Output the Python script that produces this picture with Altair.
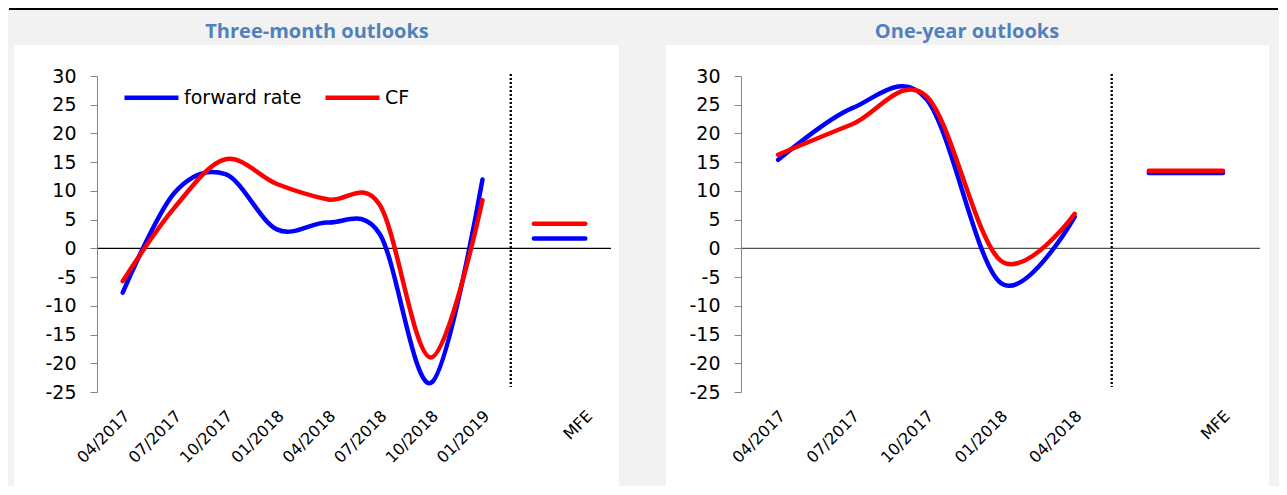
import json
import altair as alt
import pandas as pd

# ---------------- data ----------------
series_names = ["forward rate", "CF"]
series_colors = ["#0000ff", "#ff0000"]

dates_3m = ["04/2017", "07/2017", "10/2017", "01/2018", "04/2018", "07/2018", "10/2018", "01/2019"]
fwd_3m = [-7.7, 9.6, 12.9, 3.3, 4.5, 2.5, -23.4, 12.0]
cf_3m = [-5.7, 7.0, 15.5, 11.2, 8.5, 7.6, -19.0, 8.4]
mfe_3m = [1.7, 4.3]          # forward rate, CF
divider_3m = 7.55

dates_1y = ["04/2017", "07/2017", "10/2017", "01/2018", "04/2018"]
fwd_1y = [15.4, 24.4, 26.0, -6.0, 5.5]
cf_1y = [16.3, 21.6, 26.5, -2.1, 6.0]
mfe_1y = [13.1, 13.5]
divider_1y = 4.5

titles = ["Three-month outlooks", "One-year outlooks"]
y_ticks = list(range(-25, 35, 5))

FONT = "DejaVu Sans"


def panel(dates, fwd, cf, mfe, divider, title, width, bg, title_x, zero_color,
          legend, top_rule):
    n = len(dates)
    idx = list(range(n))
    lines = pd.DataFrame({
        "idx": idx + idx,
        "value": fwd + cf,
        "series": [series_names[0]] * n + [series_names[1]] * n,
    })
    mfe_df = pd.DataFrame({
        "idx": [n, n + 1, n, n + 1],
        "value": [mfe[0], mfe[0], mfe[1], mfe[1]],
        "series": [series_names[0]] * 2 + [series_names[1]] * 2,
    })
    labels = dates + ["", "MFE"]
    x_scale = alt.Scale(domain=[-0.5, n + 1.5], nice=False, zero=False)
    y_scale = alt.Scale(domain=[-25, 30], nice=False, zero=False)

    x_enc = alt.X("idx:Q", scale=x_scale, axis=alt.Axis(
        values=idx + [n + 1], labelExpr=json.dumps(labels) + "[datum.value]",
        labelAngle=-45, labelAlign="right", labelBaseline="middle",
        domain=False, ticks=False, tickSize=0, grid=False, labelPadding=21,
        labelOffset=4, labelFontSize=16, labelFont=FONT, labelColor="black",
        title=None, labelOverlap=False, labelFlush=False, labelBound=False,
        zindex=2))
    y_enc = alt.Y("value:Q", scale=y_scale, axis=alt.Axis(
        values=y_ticks, tickCount=12, labelExpr="datum.value + ''", grid=False,
        domainColor="#868686", tickColor="#868686",
        tickSize=7, labelPadding=14, labelFontSize=19, labelFont=FONT,
        labelColor="black", title=None, labelOverlap=False, labelFlush=False,
        labelBound=False, zindex=2))
    color_enc = alt.Color("series:N", scale=alt.Scale(domain=series_names, range=series_colors),
                          legend=legend)

    one = pd.DataFrame({"k": [0]})
    bg_rect = alt.Chart(one).mark_rect(color="white").encode(
        x=alt.value(bg[0]), x2=alt.value(bg[1]), y=alt.value(-31), y2=alt.value(410))
    zero = alt.Chart(one).mark_rule(color=zero_color, strokeWidth=1.2).encode(
        y=alt.datum(0, scale=y_scale))
    div = alt.Chart(pd.DataFrame({"d": [divider]})).mark_rule(
        color="black", strokeWidth=2.3, strokeDash=[2, 2]).encode(
        x=alt.X("d:Q", scale=x_scale), y=alt.value(-2), y2=alt.value(311))
    line = alt.Chart(lines).mark_line(
        interpolate="cardinal", tension=0, strokeWidth=4.5, strokeCap="round",
        strokeJoin="round").encode(x=x_enc, y=y_enc, color=color_enc,
                                   order=alt.Order("idx:Q"))
    mfe_line = alt.Chart(mfe_df).mark_line(strokeWidth=4.5, strokeCap="round").encode(
        x=x_enc, y=y_enc, color=color_enc)
    ttl = alt.Chart(pd.DataFrame({"t": [title]})).mark_text(
        font="Open Sans", fontWeight="bold", fontSize=20, color="#4f81bd",
        align="center", baseline="middle").encode(
        x=alt.value(title_x), y=alt.value(-44), text="t:N")
    layers = [bg_rect, zero, div, line, mfe_line, ttl]
    if top_rule:
        layers.append(alt.Chart(one).mark_rule(color="black", strokeWidth=2).encode(
            x=alt.value(-88), x2=alt.value(1181), y=alt.value(-67)))
    return alt.layer(*layers).properties(width=width, height=316)


legend_left = alt.Legend(orient="none", legendX=25, legendY=-8, direction="horizontal",
                         symbolType="stroke", symbolSize=2916, symbolStrokeWidth=4.5,
                         labelFontSize=19, labelFont=FONT, labelColor="black",
                         title=None, columnPadding=14, labelOffset=3, padding=0)

left = panel(dates_3m, fwd_3m, cf_3m, mfe_3m, divider_3m, titles[0], 514,
             (-83, 522), 220, "black", legend_left, True)
right = panel(dates_1y, fwd_1y, cf_1y, mfe_1y, divider_1y, titles[1], 519,
              (-75, 528), 226, "#505050", None, False)

chart = alt.hconcat(left, right, spacing=130, bounds="flush").resolve_scale(
    x="independent", y="independent", color="shared").resolve_legend(
    color="independent").properties(
    background="#f2f2f2", padding=0).configure_view(stroke=None).configure_axis(
    labelOverlap=False)

chart.save("out.html", embed_options={"renderer": "svg", "actions": False})
